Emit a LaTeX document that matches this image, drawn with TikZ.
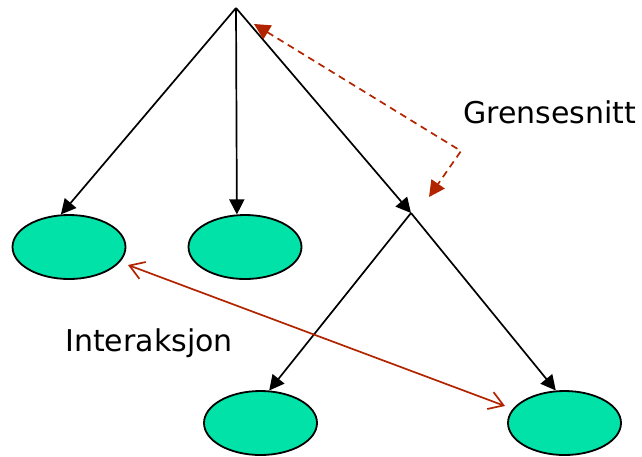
\documentclass[tikz,border=0pt]{standalone}
\usepackage{fontspec}
\setmainfont{DejaVu Sans}
\usetikzlibrary{shapes.geometric,arrows.meta}
\definecolor{leaf}{RGB}{0,226,168}
\definecolor{dred}{RGB}{178,36,0}
\tikzset{
  leafnode/.style={ellipse,draw=black,line width=1.8pt,fill=leaf,minimum width=113pt,minimum height=64pt,inner sep=0pt},
  tree/.style={line width=1.7pt,-{Triangle[length=15pt,width=15pt]}},
  iface/.style={dred,line width=1.7pt,dash pattern=on 7pt off 5pt,{Triangle[length=16pt,width=16pt]}-{Triangle[length=16pt,width=16pt]}},
  interact/.style={dred,line width=1.7pt,{Straight Barb[length=14pt,width=18pt]}-{Straight Barb[length=14pt,width=18pt]}},
  lbl/.style={anchor=base west,inner sep=0pt,font=\fontsize{30}{34}\selectfont}
}
\begin{document}
\begin{tikzpicture}[x=1pt,y=-1pt]
\useasboundingbox (0,0) rectangle (642,456);
\coordinate (A) at (236,8);
\coordinate (J) at (411,213);
\node[leafnode] (L) at (69,247) {};
\node[leafnode] (M) at (245,247) {};
\node[leafnode] (BL) at (260.5,423) {};
\node[leafnode] (BR) at (564.5,423) {};
\draw[tree] (A) -- (L.104);
\draw[tree] (A) -- (M.104);
\draw[tree] (A) -- (J);
\draw[tree] (J) -- (BL.75);
\draw[tree] (J) -- (BR.105);
\coordinate (C) at (461,151);
\coordinate (D1) at (254,24);
\coordinate (D2) at (429,197);
\draw[iface] (D1) -- (C) -- (D2);
\coordinate (E1) at (128,265);
\coordinate (E2) at (505,406);
\draw[interact] (E1) -- (E2);
\node[lbl] (t1) at (463,123) {Grensesnitt};
\node[lbl] (t2) at (65,351) {Interaksjon};
\end{tikzpicture}
\end{document}
